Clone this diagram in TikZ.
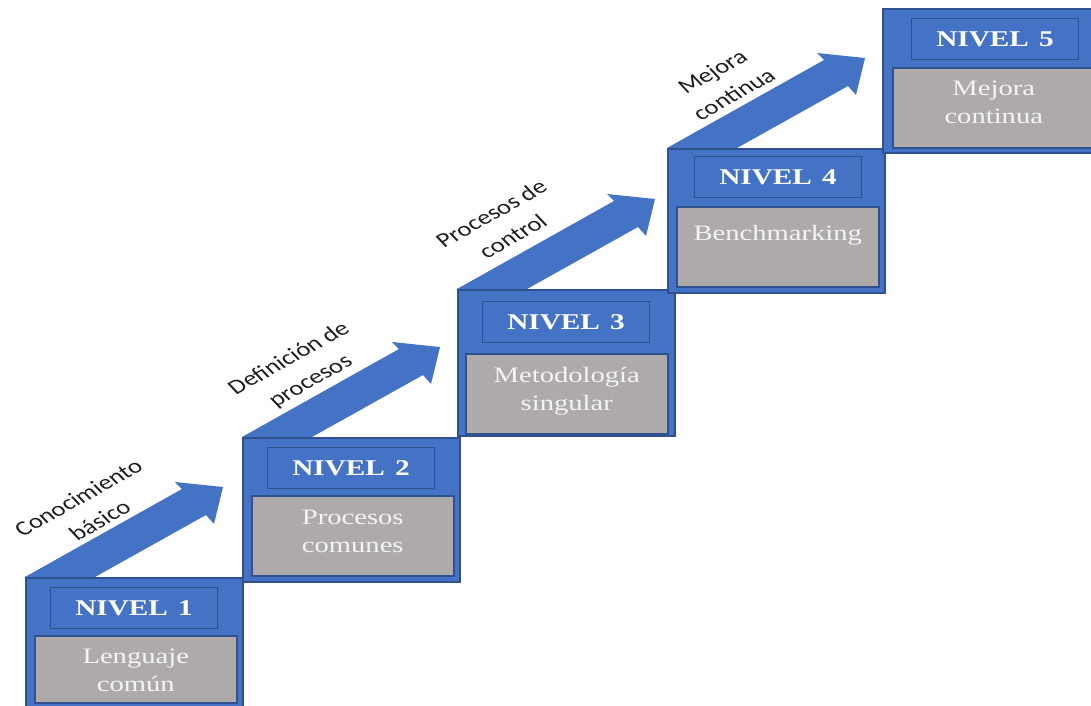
\documentclass[tikz,border=0pt]{standalone}
\usepackage{fontspec}
\setmainfont{Liberation Serif}
\newfontfamily\labfont{Carlito}
\usepackage{graphicx}
\usetikzlibrary{calc}
\definecolor{offblue}{HTML}{4472C4}
\definecolor{offborder}{HTML}{2F528F}
\definecolor{offgray}{HTML}{AEAAAA}
\definecolor{graytxt}{HTML}{F4F4F4}
\definecolor{labtxt}{HTML}{1E1E1E}
\newcommand{\hstretch}[1]{\scalebox{1.3}[1]{#1}}
\newcommand{\twolines}[2]{\begin{tabular}{@{}c@{}}#1\\#2\end{tabular}}
\begin{document}
\begin{tikzpicture}[x=1pt,y=-1pt,
  outerbox/.style={draw=offborder, line width=1.5pt, fill=offblue, inner sep=0pt,
    minimum width=217pt, minimum height=144pt, anchor=north west},
  titlebox/.style={draw=offborder, line width=1.2pt, fill=offblue, inner sep=0pt,
    minimum width=167pt, minimum height=41pt, anchor=north west,
    text=white, font=\bfseries\fontsize{22.5}{26}\selectfont},
  graybox/.style={draw=offborder, line width=1.5pt, fill=offgray, inner sep=0pt,
    minimum width=202pt, minimum height=80pt, anchor=north west},
  graytext/.style={inner sep=0pt, text=graytxt, font=\fontsize{22}{28}\selectfont},
  labeltext/.style={inner sep=0pt, text=labtxt, font={\labfont\fontsize{20.5}{28}\selectfont}},
  arrowfill/.style={fill=offblue}
]
\useasboundingbox (0,0) rectangle (1091,705);
\clip (0,0) rectangle (1091,705);
\fill[white] (0,0) rectangle (1091,705);

% origins (top-left corners of the steps)
\coordinate (o1) at (25,577);
\coordinate (o2) at (242,437);
\coordinate (o3) at (457,289);
\coordinate (o4) at (667,148);
\coordinate (o5) at (882,8);

% block arrows
\foreach \o in {o1,o2,o3,o4}{
  \fill[arrowfill, shift={(\o)}] (0,0) -- (157,-88) -- (150,-95) -- (198,-90)
     -- (189,-53) -- (181,-62) -- (70,0) -- cycle;
}

% level 1
\node[outerbox, minimum height=132pt] (b1) at (o1) {};
\node[titlebox] (t1) at ($(o1)+(25,10)$) {\hstretch{NIVEL\hspace{0.35em}1}};
\node[graybox, minimum height=67pt] (g1) at ($(o1)+(9,58)$) {};
\node[graytext] (c1) at ($(g1.north)+(0,37)$) {\hstretch{\twolines{Lenguaje}{común}}};

% level 2
\node[outerbox] (b2) at (o2) {};
\node[titlebox] (t2) at ($(o2)+(25,10)$) {\hstretch{NIVEL\hspace{0.35em}2}};
\node[graybox] (g2) at ($(o2)+(9,58)$) {};
\node[graytext] (c2) at ($(g2.north)+(0,38)$) {\hstretch{\twolines{Procesos}{comunes}}};

% level 3
\node[outerbox, minimum height=146pt] (b3) at (o3) {};
\node[titlebox] (t3) at ($(o3)+(25,12)$) {\hstretch{NIVEL\hspace{0.35em}3}};
\node[graybox] (g3) at ($(o3)+(8,64)$) {};
\node[graytext] (c3) at ($(g3.north)+(0,38)$) {\hstretch{\twolines{Metodología}{singular}}};

% level 4
\node[outerbox] (b4) at (o4) {};
\node[titlebox] (t4) at ($(o4)+(27,8)$) {\hstretch{NIVEL\hspace{0.35em}4}};
\node[graybox] (g4) at ($(o4)+(9,58)$) {};
\node[graytext] (c4) at ($(g4.north)+(0,29)$) {\hstretch{Benchmarking}};

% level 5
\node[outerbox] (b5) at (o5) {};
\node[titlebox] (t5) at ($(o5)+(29,10)$) {\hstretch{NIVEL\hspace{0.35em}5}};
\node[graybox] (g5) at ($(o5)+(10,59)$) {};
\node[graytext] (c5) at ($(g5.north)+(0,37)$) {\hstretch{\twolines{Mejora}{continua}}};

% arrow labels
\node[labeltext] (l1) at (90,510) {\hstretch{\rotatebox{36}{\twolines{Conocimiento}{básico}}}};
\node[labeltext] (l2) at (300,370) {\hstretch{\rotatebox{36}{\twolines{Definición de}{procesos}}}};
\node[labeltext] (l3) at (503,226) {\hstretch{\rotatebox{36}{\twolines{Procesos de}{control}}}};
\node[labeltext] (l4) at (724,84) {\hstretch{\rotatebox{36}{\twolines{Mejora}{continua}}}};
\end{tikzpicture}
\end{document}
